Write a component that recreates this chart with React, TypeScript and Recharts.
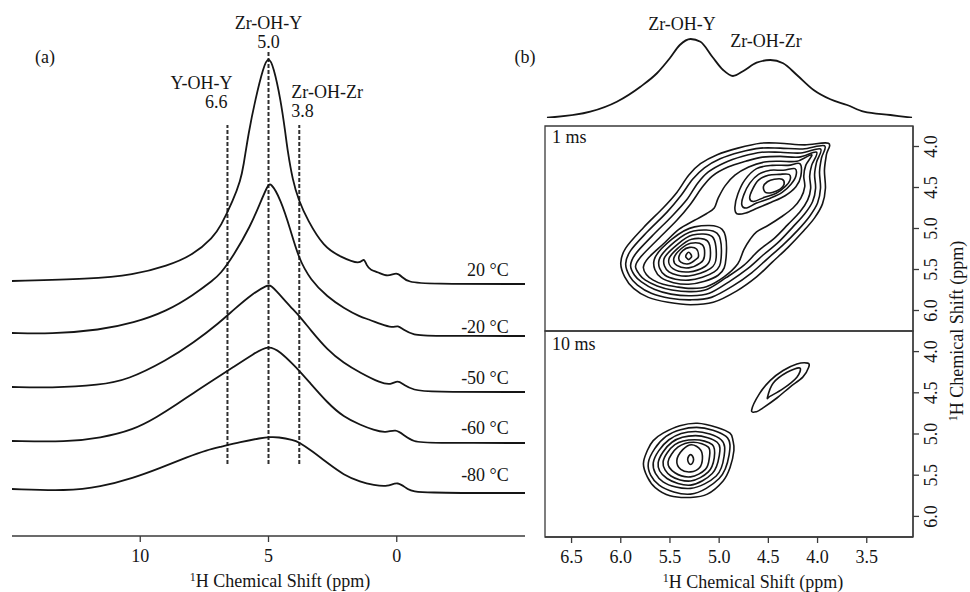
import React from 'react';
import { LineChart, Line, XAxis, YAxis, ReferenceLine, ReferenceDot, ReferenceArea } from 'recharts';

const FONT = '"Liberation Serif", "Times New Roman", Times, serif';
const INK = '#151515';
const FRAME = '#3a3a3a';
const FS = 18;

// ---------- (a) variable-temperature 1H MAS spectra: [shift (ppm), intensity (a.u.)] ----------
const spectrum20C = [
  [15.0, 3], [11.95, 5], [10.27, 9], [8.95, 18], [7.93, 29], [7.15, 47], [6.88, 57], [6.37, 84],
  [6.09, 104], [5.98, 117], [5.78, 151], [5.51, 185], [5.2, 217], [5.0, 228], [4.8, 217], [4.53, 185],
  [4.34, 151], [4.26, 134], [4.06, 104], [3.83, 84], [3.48, 64], [2.85, 37], [2.19, 27], [1.41, 19],
  [1.29, 27], [1.17, 18], [1.02, 14], [0.74, 12], [0.35, 7], [0.0, 12], [-0.2, 7], [-0.43, 2],
  [-1.21, 0], [-5.0, 0],
];
const spectrumM20C = [
  [15.0, 3], [13.5, 2], [11.56, 6], [10.27, 13], [8.95, 25], [7.93, 41], [7.15, 56], [6.88, 62],
  [6.37, 80], [5.7, 110], [5.31, 134], [5.04, 150], [4.92, 154], [4.53, 137], [4.14, 106], [3.83, 78],
  [3.36, 56], [2.7, 39], [2.07, 28], [1.41, 19], [1.13, 17], [0.63, 12], [0.16, 8], [-0.04, 11],
  [-0.27, 6], [-0.66, 1], [-1.21, 0], [-5.0, 0],
];
const spectrumM50C = [
  [15.0, 5], [13.5, 4], [11.56, 7], [10.5, 12], [8.95, 32], [7.93, 49], [6.88, 70], [6.37, 82],
  [5.59, 99], [5.04, 107], [4.92, 107], [4.65, 100], [4.14, 85], [3.83, 77], [3.36, 62], [2.7, 42],
  [2.07, 29], [1.41, 19], [0.63, 9], [0.23, 7], [-0.04, 12], [-0.27, 7], [-0.66, 2], [-1.21, 0], [-5.0, 0],
];
const spectrumM60C = [
  [15.0, 2], [12.85, 1], [11.56, 5], [10.27, 13], [9.34, 26], [8.55, 39], [7.93, 50], [7.15, 63],
  [6.37, 76], [5.59, 89], [5.0, 98], [4.53, 91], [4.02, 78], [3.83, 73], [3.48, 63], [2.7, 40],
  [2.07, 26], [1.41, 18], [0.9, 13], [0.43, 10], [0.04, 14], [-0.27, 8], [-0.66, 1], [-1.21, 0], [-5.0, 0],
];
const spectrumM80C = [
  [15.0, 4], [12.85, 2], [11.56, 6], [10.27, 15], [9.22, 25], [8.16, 36], [7.38, 43], [6.88, 46],
  [6.09, 51], [5.31, 55], [4.9, 56], [4.65, 56], [4.02, 53], [3.83, 51], [3.36, 43], [2.7, 30],
  [2.07, 18], [1.41, 11], [0.9, 8], [0.35, 6], [-0.04, 12], [-0.43, 3], [-0.82, 0], [-5.0, 0],
];
const temperatureLabels = ['20 °C', '-20 °C', '-50 °C', '-60 °C', '-80 °C'];
const shiftTicks = [10, 5, 0];
const siteNames = ['Y-OH-Y', 'Zr-OH-Y', 'Zr-OH-Zr'];
const siteShifts = [6.6, 5.0, 3.8];

// ---------- (b) F2 projection of the 1 ms spectrum: [shift (ppm), intensity] ----------
const projection1ms = [
  [6.75, 0.3], [6.31, 6.3], [6.04, 16.3], [5.8, 31.3], [5.63, 45], [5.5, 60], [5.4, 73], [5.29, 79],
  [5.19, 76.3], [5.07, 61.3], [4.96, 48], [4.86, 42], [4.75, 47.3], [4.62, 55.3], [4.48, 58],
  [4.35, 54.7], [4.21, 43], [4.04, 28], [3.87, 18.7], [3.7, 13], [3.53, 6.3], [3.26, 3], [3.04, 0.3],
];
const f2Ticks = [6.5, 6.0, 5.5, 5.0, 4.5, 4.0, 3.5];
const f1Ticks = [4.0, 4.5, 5.0, 5.5, 6.0];

// ---------- 2D contour levels, each a closed ring of [F2 ppm, F1 ppm] ----------
// 1 ms mixing: outer levels enclosing both cross-diagonal sites
const contours1msOuter = [
  [[3.89, 3.96], [4.13, 3.98], [4.38, 3.96], [4.58, 3.96], [4.81, 4.02], [5.02, 4.1], [5.19, 4.21], [5.31, 4.35],
   [5.43, 4.56], [5.57, 4.75], [5.77, 4.99], [5.95, 5.24], [6.0, 5.42], [5.96, 5.59], [5.87, 5.73], [5.72, 5.84],
   [5.52, 5.9], [5.29, 5.93], [5.06, 5.9], [4.82, 5.76], [4.62, 5.59], [4.46, 5.41], [4.3, 5.23], [4.15, 5.04],
   [4.03, 4.87], [3.95, 4.7], [3.92, 4.51], [3.93, 4.29], [3.91, 4.1]],
  [[3.93, 3.99], [4.15, 4.03], [4.38, 4.02], [4.58, 4.02], [4.79, 4.07], [4.99, 4.15], [5.15, 4.26], [5.27, 4.4],
   [5.39, 4.6], [5.53, 4.8], [5.73, 5.04], [5.9, 5.27], [5.95, 5.43], [5.91, 5.58], [5.83, 5.69], [5.69, 5.79],
   [5.5, 5.85], [5.29, 5.87], [5.08, 5.84], [4.86, 5.7], [4.67, 5.54], [4.51, 5.37], [4.35, 5.2], [4.2, 5.02],
   [4.08, 4.85], [4.0, 4.69], [3.97, 4.51], [3.98, 4.31], [3.96, 4.14]],
  [[3.97, 4.03], [4.17, 4.08], [4.38, 4.07], [4.57, 4.07], [4.76, 4.12], [4.95, 4.2], [5.11, 4.31], [5.22, 4.45],
   [5.33, 4.65], [5.48, 4.85], [5.68, 5.09], [5.85, 5.31], [5.9, 5.45], [5.86, 5.57], [5.79, 5.65], [5.66, 5.74],
   [5.49, 5.8], [5.29, 5.82], [5.1, 5.79], [4.9, 5.65], [4.71, 5.49], [4.55, 5.32], [4.4, 5.17], [4.25, 4.98],
   [4.13, 4.82], [4.05, 4.67], [4.02, 4.51], [4.03, 4.34], [4.01, 4.19]],
  [[4.01, 4.07], [4.19, 4.13], [4.38, 4.12], [4.56, 4.13], [4.73, 4.18], [4.91, 4.25], [5.07, 4.36], [5.18, 4.51],
   [5.29, 4.7], [5.43, 4.9], [5.63, 5.14], [5.8, 5.35], [5.85, 5.46], [5.81, 5.56], [5.75, 5.63], [5.63, 5.7],
   [5.48, 5.75], [5.29, 5.77], [5.12, 5.74], [4.93, 5.6], [4.75, 5.45], [4.6, 5.27], [4.44, 5.12], [4.3, 4.95],
   [4.18, 4.8], [4.1, 4.65], [4.07, 4.51], [4.08, 4.36], [4.06, 4.23]],
  [[4.06, 4.1], [4.21, 4.18], [4.38, 4.18], [4.54, 4.19], [4.7, 4.25], [4.84, 4.35], [4.94, 4.48], [5.01, 4.63],
   [5.05, 4.75], [5.13, 4.82], [5.25, 4.9], [5.41, 5.01], [5.56, 5.18], [5.72, 5.36], [5.77, 5.47], [5.74, 5.56],
   [5.67, 5.63], [5.57, 5.68], [5.44, 5.71], [5.29, 5.73], [5.13, 5.71], [4.95, 5.59], [4.81, 5.43], [4.75, 5.26],
   [4.69, 5.14], [4.62, 5.04], [4.5, 4.96], [4.37, 4.86], [4.25, 4.75], [4.17, 4.63], [4.13, 4.49], [4.14, 4.36],
   [4.12, 4.23]],
];
// 1 ms: inner levels around the Zr-OH-Y site
const contours1msZrOHY = [
  [[4.93, 5.36], [4.97, 5.01], [5.25, 4.98], [5.48, 5.13], [5.66, 5.38], [5.59, 5.6], [5.31, 5.68], [5.01, 5.57]],
  [[4.98, 5.36], [5.02, 5.06], [5.26, 5.03], [5.45, 5.16], [5.61, 5.38], [5.55, 5.57], [5.31, 5.63], [5.05, 5.53]],
  [[5.03, 5.35], [5.07, 5.1], [5.27, 5.08], [5.43, 5.2], [5.56, 5.37], [5.51, 5.53], [5.31, 5.58], [5.09, 5.49]],
  [[5.09, 5.35], [5.12, 5.15], [5.28, 5.13], [5.41, 5.23], [5.51, 5.37], [5.47, 5.49], [5.31, 5.53], [5.14, 5.46]],
  [[5.15, 5.34], [5.17, 5.2], [5.29, 5.18], [5.39, 5.25], [5.46, 5.36], [5.43, 5.45], [5.31, 5.48], [5.19, 5.42]],
  [[5.21, 5.34], [5.23, 5.25], [5.3, 5.23], [5.37, 5.27], [5.41, 5.35], [5.39, 5.41], [5.31, 5.43], [5.24, 5.38]],
  [[5.28, 5.34], [5.29, 5.31], [5.31, 5.29], [5.33, 5.31], [5.34, 5.34], [5.33, 5.36], [5.31, 5.38], [5.29, 5.36]],
];
// 1 ms: inner levels around the Zr-OH-Zr site
const contours1msZrOHZr = [
  [[4.18, 4.21], [4.3, 4.23], [4.46, 4.23], [4.62, 4.27], [4.74, 4.41], [4.81, 4.58], [4.84, 4.74], [4.82, 4.82],
   [4.73, 4.81], [4.61, 4.75], [4.47, 4.68], [4.33, 4.6], [4.22, 4.49], [4.17, 4.36]],
  [[4.23, 4.27], [4.35, 4.29], [4.48, 4.29], [4.6, 4.34], [4.69, 4.45], [4.75, 4.59], [4.77, 4.71], [4.72, 4.75],
   [4.62, 4.69], [4.48, 4.63], [4.36, 4.56], [4.27, 4.46], [4.22, 4.36]],
  [[4.29, 4.34], [4.39, 4.34], [4.5, 4.35], [4.6, 4.41], [4.66, 4.52], [4.69, 4.63], [4.65, 4.67], [4.54, 4.62],
   [4.42, 4.57], [4.33, 4.49], [4.28, 4.41]],
  [[4.36, 4.4], [4.44, 4.4], [4.51, 4.43], [4.55, 4.49], [4.53, 4.56], [4.46, 4.56], [4.38, 4.52], [4.34, 4.46]],
];
// 10 ms mixing: Zr-OH-Y site
const contours10msZrOHY = [
  [[4.89, 4.99], [5.02, 4.92], [5.22, 4.87], [5.4, 4.9], [5.57, 4.99], [5.67, 5.08], [5.73, 5.2], [5.77, 5.36],
   [5.73, 5.52], [5.65, 5.65], [5.5, 5.75], [5.29, 5.77], [5.12, 5.73], [4.96, 5.57], [4.89, 5.41], [4.85, 5.2],
   [4.86, 5.08]],
  [[4.9, 5.26], [4.93, 5.03], [5.23, 4.92], [5.54, 5.03], [5.72, 5.35], [5.61, 5.62], [5.29, 5.73], [5.0, 5.54]],
  [[4.95, 5.27], [4.98, 5.07], [5.24, 4.97], [5.51, 5.07], [5.67, 5.35], [5.57, 5.58], [5.29, 5.66], [5.03, 5.51]],
  [[5.0, 5.27], [5.02, 5.1], [5.24, 5.02], [5.48, 5.1], [5.62, 5.35], [5.53, 5.54], [5.29, 5.62], [5.07, 5.48]],
  [[5.05, 5.29], [5.07, 5.13], [5.25, 5.07], [5.45, 5.13], [5.57, 5.34], [5.49, 5.51], [5.29, 5.57], [5.11, 5.46]],
  [[5.1, 5.29], [5.11, 5.16], [5.26, 5.1], [5.42, 5.16], [5.52, 5.34], [5.45, 5.47], [5.29, 5.52], [5.14, 5.43]],
  [[5.17, 5.3], [5.19, 5.19], [5.28, 5.13], [5.37, 5.19], [5.43, 5.32], [5.39, 5.43], [5.29, 5.46], [5.2, 5.41]],
  [[5.26, 5.31], [5.27, 5.27], [5.29, 5.25], [5.31, 5.27], [5.32, 5.31], [5.31, 5.35], [5.29, 5.37], [5.27, 5.35]],
];
// 10 ms mixing: Zr-OH-Zr site
const contours10msZrOHZr = [
  [[4.67, 4.71], [4.59, 4.51], [4.48, 4.35], [4.35, 4.23], [4.21, 4.15], [4.1, 4.14], [4.09, 4.19], [4.15, 4.31],
   [4.28, 4.43], [4.41, 4.56], [4.55, 4.68], [4.62, 4.73]],
  [[4.51, 4.56], [4.45, 4.38], [4.31, 4.25], [4.18, 4.2], [4.21, 4.31], [4.35, 4.45], [4.48, 4.54]],
];

// ---------- layout of the stacked traces (baseline lift of each trace, label lift above it) ----------
const STACK = [252, 200, 144, 93, 43];
const LABEL_LIFT = [14, 9, 14, 15, 18];
const F2_DOMAIN = [3.03, 6.77];
const F1_DOMAIN = [3.75, 6.25];

// closed Catmull-Rom curve so each contour ring passes through its points
function closedCurve(context: any) {
  let pts: number[][] = [];
  return {
    areaStart() {},
    areaEnd() {},
    lineStart() {
      pts = [];
    },
    point(x: number, y: number) {
      pts.push([x, y]);
    },
    lineEnd() {
      const n = pts.length;
      if (!n) return;
      context.moveTo(pts[0][0], pts[0][1]);
      for (let i = 0; i < n; i++) {
        const p0 = pts[(i - 1 + n) % n];
        const p1 = pts[i];
        const p2 = pts[(i + 1) % n];
        const p3 = pts[(i + 2) % n];
        context.bezierCurveTo(
          p1[0] + (p2[0] - p0[0]) / 6,
          p1[1] + (p2[1] - p0[1]) / 6,
          p2[0] - (p3[0] - p1[0]) / 6,
          p2[1] - (p3[1] - p1[1]) / 6,
          p2[0],
          p2[1],
        );
      }
      context.closePath();
    },
  };
}

const textStyle = { fill: INK, fontSize: FS, fontFamily: FONT };

function SiteLabel(props: any) {
  const { viewBox, name, shift, variant } = props;
  if (!viewBox) return null;
  const x = viewBox.x;
  const top = viewBox.y;
  const value = Number(shift).toFixed(1);
  if (variant === 0) {
    return (
      <g>
        <text x={x + 5} y={top - 36} textAnchor="end" {...textStyle}>{name}</text>
        <text x={x} y={top - 17} textAnchor="end" {...textStyle}>{value}</text>
      </g>
    );
  }
  if (variant === 1) {
    return (
      <g>
        <text x={x} y={top - 23} textAnchor="middle" {...textStyle}>{name}</text>
        <text x={x} y={top - 4} textAnchor="middle" {...textStyle}>{value}</text>
      </g>
    );
  }
  return (
    <g>
      <text x={x - 8} y={top - 27} textAnchor="start" {...textStyle}>{name}</text>
      <text x={x - 8} y={top - 8} textAnchor="start" {...textStyle}>{value}</text>
    </g>
  );
}

function TempLabel(props: any) {
  const { viewBox, text } = props;
  if (!viewBox) return null;
  return (
    <text x={viewBox.x} y={viewBox.y} textAnchor="end" dominantBaseline="central" {...textStyle}>
      {text}
    </text>
  );
}

function F1Tick(props: any) {
  const { x, y, payload } = props;
  return (
    <text transform={`translate(${x + 16},${y}) rotate(-90)`} textAnchor="middle" {...textStyle}>
      {Number(payload.value).toFixed(1)}
    </text>
  );
}

const contourLines = (rings: number[][][], tag: string) =>
  rings.map((ring, i) => (
    <Line
      key={`${tag}-${i}`}
      data={ring.map(([x, y]) => ({ x, y }))}
      dataKey="y"
      type={closedCurve as any}
      stroke={INK}
      strokeWidth={1.6}
      dot={false}
      activeDot={false}
      isAnimationActive={false}
    />
  ));

function SpectraPanel() {
  const traces = [spectrum20C, spectrumM20C, spectrumM50C, spectrumM60C, spectrumM80C];
  return (
    <LineChart width={540} height={592} margin={{ top: 20, right: 15, bottom: 6, left: 12 }}>
      <XAxis
        type="number"
        dataKey="ppm"
        domain={[-5, 15]}
        reversed
        allowDataOverflow
        ticks={shiftTicks}
        interval={0}
        height={50}
        tickSize={6}
        tickMargin={7}
        axisLine={{ stroke: FRAME, strokeWidth: 1.3 }}
        tickLine={{ stroke: FRAME, strokeWidth: 1.3 }}
        tick={textStyle}
      />
      <YAxis hide type="number" domain={[0, 516]} allowDataOverflow />
      {siteShifts.map((s, i) => (
        <ReferenceLine
          key={siteNames[i]}
          segment={[{ x: s, y: 72 }, { x: s, y: i === 1 ? 484 : 411 }]}
          ifOverflow="visible"
          stroke="#2e2e2e"
          strokeWidth={2}
          strokeDasharray="4 2"
          label={<SiteLabel name={siteNames[i]} shift={s} variant={i} />}
        />
      ))}
      {traces.map((t, i) => (
        <Line
          key={temperatureLabels[i]}
          data={t.map(([ppm, v]) => ({ ppm, v: v + STACK[i] }))}
          dataKey="v"
          type="basis"
          stroke={INK}
          strokeWidth={1.8}
          dot={false}
          activeDot={false}
          isAnimationActive={false}
        />
      ))}
      {temperatureLabels.map((t, i) => (
        <ReferenceDot
          key={t}
          x={-4.37}
          y={STACK[i] + LABEL_LIFT[i]}
          r={0}
          fill="none"
          stroke="none"
          ifOverflow="visible"
          label={<TempLabel text={t} />}
        />
      ))}
    </LineChart>
  );
}

function ProjectionPanel() {
  return (
    <LineChart width={440} height={125} margin={{ top: 18, right: 57, bottom: 7, left: 15 }}>
      <XAxis hide type="number" dataKey="x" domain={F2_DOMAIN} reversed allowDataOverflow />
      <YAxis hide type="number" domain={[0, 100]} allowDataOverflow />
      <Line
        data={projection1ms.map(([x, v]) => ({ x, v }))}
        dataKey="v"
        type="monotone"
        stroke={INK}
        strokeWidth={1.8}
        dot={false}
        activeDot={false}
        isAnimationActive={false}
      />
    </LineChart>
  );
}

function ContourPanel(props: { height: number; top: number; bottom: number; withF2: boolean; children: any }) {
  const { height, top, bottom, withF2, children } = props;
  return (
    <LineChart width={440} height={height} margin={{ top, right: 12, bottom, left: 15 }}>
      <XAxis
        hide={!withF2}
        type="number"
        dataKey="x"
        domain={F2_DOMAIN}
        reversed
        allowDataOverflow
        ticks={f2Ticks}
        interval={0}
        height={50}
        tickSize={6}
        tickMargin={7}
        tickFormatter={(v: number) => v.toFixed(1)}
        axisLine={{ stroke: FRAME, strokeWidth: 1.3 }}
        tickLine={{ stroke: FRAME, strokeWidth: 1.3 }}
        tick={textStyle}
      />
      <YAxis
        orientation="right"
        type="number"
        domain={F1_DOMAIN}
        reversed
        allowDataOverflow
        ticks={f1Ticks}
        interval={0}
        width={45}
        tickSize={6}
        tickMargin={2}
        axisLine={{ stroke: FRAME, strokeWidth: 1.3 }}
        tickLine={{ stroke: FRAME, strokeWidth: 1.3 }}
        tick={<F1Tick />}
      />
      <ReferenceArea
        x1={F2_DOMAIN[0]}
        x2={F2_DOMAIN[1]}
        y1={F1_DOMAIN[0]}
        y2={F1_DOMAIN[1]}
        fill="none"
        fillOpacity={0}
        stroke={FRAME}
        strokeWidth={1.3}
        ifOverflow="visible"
      />
      {children}
    </LineChart>
  );
}

function Annotations() {
  return (
    <svg width={970} height={592} style={{ position: 'absolute', left: 0, top: 0, pointerEvents: 'none' }}>
      <g {...textStyle}>
        <text x={45} y={63} textAnchor="middle">(a)</text>
        <text x={525} y={63} textAnchor="middle">(b)</text>
        <text x={682} y={30} textAnchor="middle">Zr-OH-Y</text>
        <text x={766} y={47} textAnchor="middle">Zr-OH-Zr</text>
        <text x={552} y={143}>1 ms</text>
        <text x={552} y={350}>10 ms</text>
        <text x={280} y={587} textAnchor="middle">
          <tspan fontSize={12} dy={-6}>1</tspan>
          <tspan dy={6}>H Chemical Shift (ppm)</tspan>
        </text>
        <text x={753} y={588} textAnchor="middle">
          <tspan fontSize={12} dy={-6}>1</tspan>
          <tspan dy={6}>H Chemical Shift (ppm)</tspan>
        </text>
        <text transform="translate(963,331) rotate(-90)" textAnchor="middle">
          <tspan fontSize={12} dy={-6}>1</tspan>
          <tspan dy={6}>H Chemical Shift (ppm)</tspan>
        </text>
      </g>
    </svg>
  );
}

export default function App() {
  return (
    <div
      style={{
        position: 'absolute',
        left: 0,
        top: 0,
        width: 970,
        height: 592,
        background: '#ffffff',
        fontFamily: FONT,
        overflow: 'hidden',
      }}
    >
      <div style={{ position: 'absolute', left: 0, top: 0 }}>
        <SpectraPanel />
      </div>
      <div style={{ position: 'absolute', left: 530, top: 0 }}>
        <ProjectionPanel />
      </div>
      <div style={{ position: 'absolute', left: 530, top: 100 }}>
        <ContourPanel height={240} top={26} bottom={9} withF2={false}>
          {contourLines(contours1msOuter, 'outer')}
          {contourLines(contours1msZrOHY, 'zry')}
          {contourLines(contours1msZrOHZr, 'zrzr')}
        </ContourPanel>
      </div>
      <div style={{ position: 'absolute', left: 530, top: 300 }}>
        <ContourPanel height={292} top={31} bottom={5} withF2>
          {contourLines(contours10msZrOHY, 'zry10')}
          {contourLines(contours10msZrOHZr, 'zrzr10')}
        </ContourPanel>
      </div>
      <Annotations />
    </div>
  );
}
